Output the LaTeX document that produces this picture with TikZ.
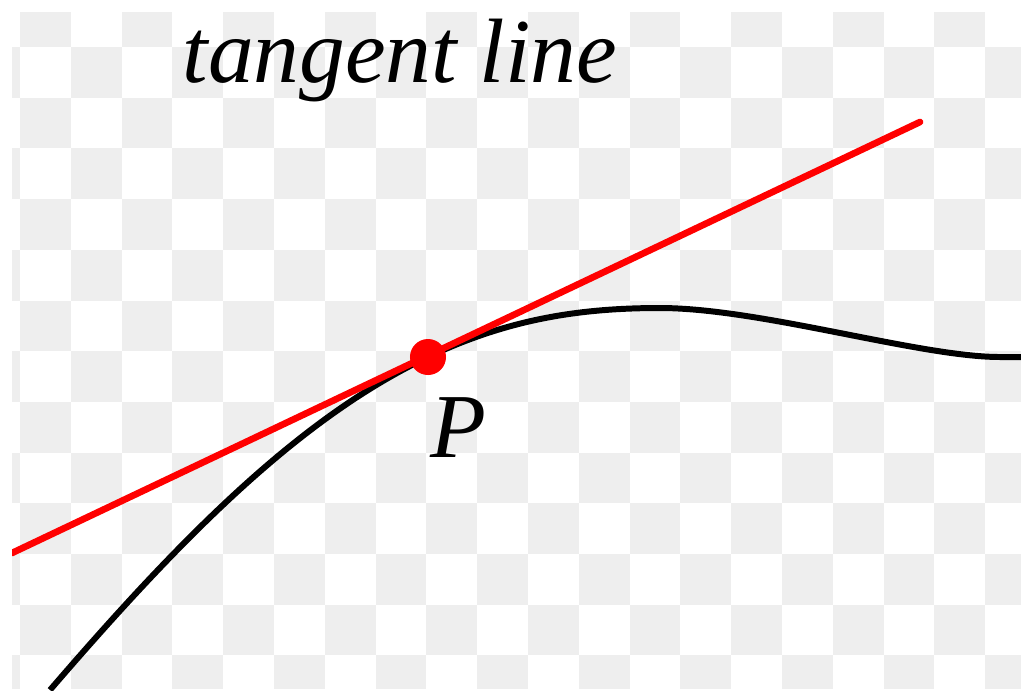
\documentclass[tikz,border=0pt]{standalone}
\usepackage{fontspec}
\setmainfont{Liberation Serif}
\usepackage{tikz}
\usetikzlibrary{arrows.meta, positioning}

\begin{document}
\begin{tikzpicture}[x=0.01cm, y=-0.01cm,
    every node/.style={font=\fontsize{26}{30}\selectfont\itshape, inner sep=0pt},
    checker/.style={fill=gray!13},
    curve/.style={line width=1.7pt, black},
    tangentline/.style={line width=1.9pt, red, line cap=round}]
    \useasboundingbox (0,0) rectangle (1021,690);
    \fill[white] (0,0) rectangle (1021,690);
    \begin{scope}
      \clip (12,12) rectangle (1021,688);
      \foreach \i in {0,...,20} {
        \foreach \j in {0,...,14} {
          \pgfmathtruncatemacro\odd{mod(\i+\j,2)}
          \ifnum\odd=1
            \fill[checker] (-30.8+50.8*\i,-3.7+50.7*\j) rectangle ++(50.8,50.7);
          \fi
        }
      }
    \end{scope}
    \node[anchor=base west] (title) at (182,82) {tangent line};
    \coordinate (P) at (428,357);
    \coordinate (start) at (50,690);
    \coordinate (top) at (660,308);
    \coordinate (flat) at (1000,357);
    \coordinate (end) at (1021,357);
    \coordinate (tl) at (12,553);
    \coordinate (tr) at (920,122);
    \draw[curve] (start) .. controls (180,539) and (298,419) .. (P)
      .. controls (508,319) and (580,308) .. (top)
      .. controls (760,308) and (920,357) .. (flat) -- (end);
    \begin{scope}
      \clip (12,0) rectangle (1021,690);
      \draw[tangentline] (tl) -- (tr);
    \end{scope}
    \node[circle, fill=red, minimum size=0.36cm] (dot) at (P) {};
    \node[anchor=base west] (plabel) at (430,457) {P};
  \end{tikzpicture}
\end{document}
